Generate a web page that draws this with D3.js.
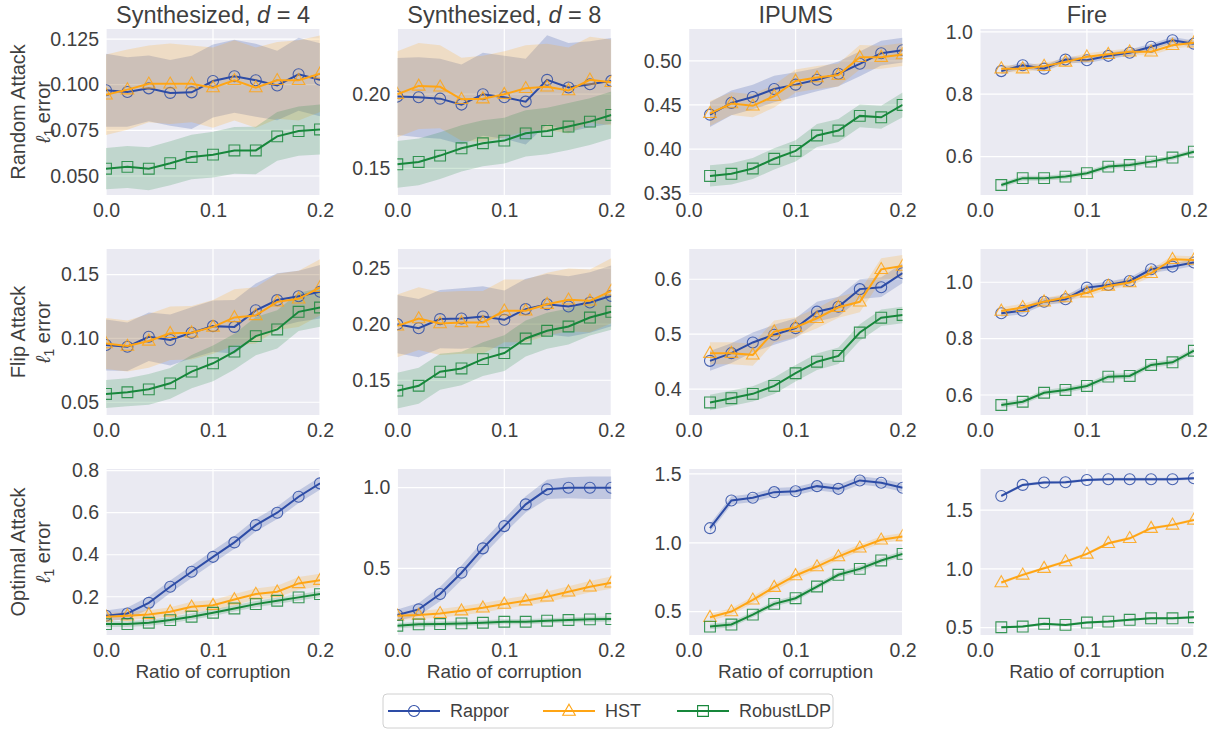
<!DOCTYPE html>
<html>
<head>
<meta charset="utf-8">
<script src="https://cdn.jsdelivr.net/npm/d3@7"></script>
<style>
  body { margin: 0; background: #fff; }
  svg text { font-family: "Liberation Sans", Arial, sans-serif; fill: #3f3f3f; }
</style>
</head>
<body>
<div class="canvas"></div>
<script>
// x values (ratio of corruption)
const ratioFull = [0, 0.02, 0.04, 0.06, 0.08, 0.1, 0.12, 0.14, 0.16, 0.18, 0.2];
const ratioShort = [0.02, 0.04, 0.06, 0.08, 0.1, 0.12, 0.14, 0.16, 0.18, 0.2];
const xTicks = [0, 0.1, 0.2];

const methods = ["Rappor", "HST", "RobustLDP"];
const colTitles = ["Synthesized, d = 4", "Synthesized, d = 8", "IPUMS", "Fire"];
const rowLabels = ["Random Attack", "Flip Attack", "Optimal Attack"];

// ---- Random attack ----
const rndD4Rappor = [0.097, 0.096, 0.098, 0.0955, 0.0958, 0.102, 0.1046, 0.1024, 0.0996, 0.1057, 0.1027];
const rndD4RapporErr = [0.020, 0.019, 0.018, 0.018, 0.020, 0.020, 0.020, 0.020, 0.019, 0.020, 0.020];
const rndD4Hst = [0.0945, 0.0973, 0.1005, 0.1005, 0.1005, 0.0984, 0.1024, 0.0984, 0.1024, 0.1024, 0.106];
const rndD4HstErr = [0.022, 0.022, 0.021, 0.022, 0.021, 0.022, 0.022, 0.022, 0.021, 0.022, 0.021];
const rndD4Robust = [0.054, 0.055, 0.054, 0.057, 0.0604, 0.0617, 0.064, 0.064, 0.0717, 0.0746, 0.0755];
const rndD4RobustErr = [0.0113, 0.0115, 0.0118, 0.012, 0.0122, 0.0125, 0.0128, 0.013, 0.0133, 0.0135, 0.0137];

const rndD8Rappor = [0.1984, 0.198, 0.197, 0.193, 0.200, 0.198, 0.195, 0.2097, 0.2045, 0.2067, 0.209];
const rndD8RapporErr = [0.026, 0.027, 0.027, 0.027, 0.028, 0.028, 0.029, 0.030, 0.030, 0.029, 0.029];
const rndD8Hst = [0.200, 0.2056, 0.205, 0.1966, 0.197, 0.200, 0.204, 0.205, 0.2025, 0.2097, 0.208];
const rndD8HstErr = [0.029, 0.029, 0.028, 0.028, 0.029, 0.029, 0.029, 0.029, 0.029, 0.029, 0.029];
const rndD8Robust = [0.1527, 0.1543, 0.1586, 0.1635, 0.1669, 0.1687, 0.1736, 0.1752, 0.1782, 0.1815, 0.186];
const rndD8RobustErr = [0.0158, 0.0158, 0.0158, 0.0156, 0.0155, 0.0155, 0.0156, 0.0157, 0.0158, 0.0158, 0.0158];

const rndIpRappor = [0.439, 0.4523, 0.459, 0.468, 0.473, 0.4786, 0.4853, 0.4966, 0.5086, 0.512];
const rndIpRapporErr = [0.014, 0.014, 0.014, 0.015, 0.014, 0.013, 0.014, 0.014, 0.014, 0.014];
const rndIpHst = [0.4405, 0.4515, 0.449, 0.460, 0.4771, 0.481, 0.4838, 0.504, 0.5041, 0.5071];
const rndIpHstErr = [0.014, 0.013, 0.013, 0.013, 0.013, 0.013, 0.013, 0.014, 0.013, 0.013];
const rndIpRobust = [0.3696, 0.372, 0.378, 0.389, 0.398, 0.4154, 0.421, 0.4376, 0.436, 0.450];
const rndIpRobustErr = [0.012, 0.012, 0.012, 0.012, 0.012, 0.013, 0.013, 0.013, 0.013, 0.014];

const rndFireRappor = [0.874, 0.8928, 0.882, 0.911, 0.909, 0.923, 0.933, 0.952, 0.973, 0.962];
const rndFireRapporErr = [0.010, 0.010, 0.010, 0.010, 0.010, 0.010, 0.010, 0.010, 0.010, 0.010];
const rndFireHst = [0.882, 0.882, 0.890, 0.9035, 0.920, 0.928, 0.936, 0.936, 0.957, 0.965];
const rndFireHstErr = [0.012, 0.011, 0.011, 0.011, 0.011, 0.011, 0.011, 0.011, 0.011, 0.011];
const rndFireRobust = [0.509, 0.531, 0.531, 0.536, 0.547, 0.568, 0.573, 0.584, 0.597, 0.616];
const rndFireRobustErr = [0.008, 0.008, 0.008, 0.008, 0.008, 0.008, 0.008, 0.008, 0.008, 0.008];

// ---- Flip attack ----
const flipD4Rappor = [0.0948, 0.0935, 0.1013, 0.0987, 0.1044, 0.1096, 0.109, 0.122, 0.130, 0.133, 0.1365];
const flipD4RapporErr = [0.020, 0.019, 0.019, 0.020, 0.020, 0.020, 0.021, 0.021, 0.021, 0.020, 0.021];
const flipD4Hst = [0.096, 0.094, 0.098, 0.104, 0.1044, 0.109, 0.1164, 0.118, 0.1286, 0.131, 0.140];
const flipD4HstErr = [0.020, 0.020, 0.021, 0.021, 0.021, 0.021, 0.022, 0.022, 0.022, 0.022, 0.022];
const flipD4Robust = [0.0565, 0.0578, 0.0601, 0.0648, 0.074, 0.0805, 0.0896, 0.1018, 0.107, 0.1208, 0.1242];
const flipD4RobustErr = [0.011, 0.011, 0.012, 0.012, 0.013, 0.014, 0.014, 0.015, 0.015, 0.015, 0.015];

const flipD8Rappor = [0.200, 0.1964, 0.2045, 0.205, 0.2068, 0.2039, 0.2134, 0.2178, 0.2157, 0.2193, 0.2252];
const flipD8RapporErr = [0.026, 0.026, 0.026, 0.027, 0.027, 0.026, 0.027, 0.027, 0.027, 0.027, 0.027];
const flipD8Hst = [0.1985, 0.205, 0.2006, 0.2015, 0.2015, 0.2119, 0.2119, 0.2178, 0.2217, 0.2208, 0.2297];
const flipD8HstErr = [0.028, 0.028, 0.028, 0.028, 0.028, 0.028, 0.028, 0.028, 0.028, 0.028, 0.029];
const flipD8Robust = [0.1407, 0.1451, 0.1576, 0.1605, 0.1688, 0.1742, 0.1872, 0.1941, 0.1979, 0.2059, 0.211];
const flipD8RobustErr = [0.016, 0.016, 0.016, 0.015, 0.015, 0.016, 0.016, 0.016, 0.016, 0.016, 0.016];

const flipIpRappor = [0.4515, 0.4655, 0.485, 0.499, 0.511, 0.541, 0.550, 0.582, 0.5855, 0.611];
const flipIpRapporErr = [0.018, 0.018, 0.018, 0.018, 0.018, 0.018, 0.018, 0.018, 0.018, 0.018];
const flipIpHst = [0.4655, 0.4655, 0.4624, 0.5048, 0.5127, 0.529, 0.549, 0.559, 0.618, 0.624];
const flipIpHstErr = [0.020, 0.020, 0.020, 0.020, 0.018, 0.018, 0.019, 0.019, 0.020, 0.020];
const flipIpRobust = [0.3758, 0.3836, 0.3915, 0.406, 0.429, 0.450, 0.4606, 0.503, 0.530, 0.535];
const flipIpRobustErr = [0.014, 0.014, 0.014, 0.015, 0.015, 0.015, 0.015, 0.015, 0.015, 0.015];

const flipFireRappor = [0.890, 0.899, 0.931, 0.9397, 0.981, 0.9905, 1.0047, 1.046, 1.0556, 1.070];
const flipFireRapporErr = [0.012, 0.012, 0.012, 0.012, 0.012, 0.012, 0.012, 0.012, 0.012, 0.012];
const flipFireHst = [0.898, 0.911, 0.931, 0.9456, 0.963, 0.987, 0.9988, 1.032, 1.0817, 1.079];
const flipFireHstErr = [0.013, 0.013, 0.013, 0.013, 0.013, 0.013, 0.013, 0.013, 0.013, 0.013];
const flipFireRobust = [0.5645, 0.576, 0.608, 0.6178, 0.632, 0.665, 0.6675, 0.7065, 0.716, 0.757];
const flipFireRobustErr = [0.010, 0.010, 0.010, 0.010, 0.010, 0.010, 0.010, 0.010, 0.010, 0.010];

// ---- Optimal attack ----
const optD4Rappor = [0.1095, 0.1206, 0.171, 0.2476, 0.319, 0.390, 0.4587, 0.541, 0.600, 0.676, 0.7397];
const optD4RapporErr = [0.025, 0.028, 0.030, 0.030, 0.030, 0.030, 0.030, 0.030, 0.030, 0.030, 0.030];
const optD4Hst = [0.1048, 0.1095, 0.116, 0.1286, 0.152, 0.160, 0.187, 0.2127, 0.224, 0.2635, 0.279];
const optD4HstErr = [0.018, 0.018, 0.020, 0.022, 0.024, 0.025, 0.026, 0.027, 0.028, 0.030, 0.030];
const optD4Robust = [0.0698, 0.070, 0.0762, 0.089, 0.105, 0.124, 0.1444, 0.165, 0.181, 0.197, 0.2127];
const optD4RobustErr = [0.014, 0.014, 0.014, 0.015, 0.015, 0.015, 0.015, 0.015, 0.015, 0.015, 0.015];

const optD8Rappor = [0.2107, 0.246, 0.341, 0.4731, 0.624, 0.762, 0.8967, 0.990, 1.000, 1.000, 1.000];
const optD8RapporErr = [0.035, 0.040, 0.045, 0.045, 0.045, 0.045, 0.050, 0.060, 0.065, 0.070, 0.070];
const optD8Hst = [0.2066, 0.2107, 0.221, 0.2376, 0.256, 0.279, 0.2996, 0.324, 0.355, 0.386, 0.411];
const optD8HstErr = [0.025, 0.025, 0.027, 0.028, 0.030, 0.030, 0.030, 0.032, 0.034, 0.036, 0.038];
const optD8Robust = [0.1446, 0.153, 0.155, 0.159, 0.163, 0.169, 0.169, 0.1756, 0.180, 0.184, 0.186];
const optD8RobustErr = [0.016, 0.016, 0.016, 0.016, 0.016, 0.016, 0.016, 0.016, 0.016, 0.016, 0.016];

const optIpRappor = [1.1065, 1.3075, 1.327, 1.368, 1.375, 1.4116, 1.392, 1.453, 1.436, 1.400];
const optIpRapporErr = [0.030, 0.030, 0.030, 0.030, 0.030, 0.030, 0.030, 0.030, 0.030, 0.030];
const optIpHst = [0.460, 0.501, 0.586, 0.678, 0.763, 0.828, 0.900, 0.964, 1.022, 1.046];
const optIpHstErr = [0.025, 0.025, 0.025, 0.025, 0.025, 0.025, 0.025, 0.025, 0.025, 0.025];
const optIpRobust = [0.392, 0.407, 0.479, 0.557, 0.598, 0.683, 0.768, 0.811, 0.872, 0.920];
const optIpRobustErr = [0.020, 0.020, 0.020, 0.020, 0.020, 0.020, 0.020, 0.020, 0.020, 0.020];

const optFireRappor = [1.620, 1.714, 1.734, 1.737, 1.756, 1.762, 1.762, 1.762, 1.762, 1.770];
const optFireRapporErr = [0.012, 0.012, 0.012, 0.012, 0.012, 0.012, 0.012, 0.012, 0.012, 0.012];
const optFireHst = [0.884, 0.949, 1.006, 1.062, 1.127, 1.218, 1.260, 1.346, 1.374, 1.416];
const optFireHstErr = [0.012, 0.012, 0.012, 0.012, 0.012, 0.012, 0.012, 0.012, 0.012, 0.012];
const optFireRobust = [0.504, 0.510, 0.533, 0.524, 0.544, 0.552, 0.567, 0.580, 0.580, 0.589];
const optFireRobustErr = [0.010, 0.010, 0.010, 0.010, 0.010, 0.010, 0.010, 0.010, 0.010, 0.010];

// y axes per panel (row major)
const yDomains = [
  [0.0396, 0.1305], [0.132, 0.244], [0.348, 0.536], [0.477, 1.009],
  [0.040, 0.170], [0.119, 0.267], [0.353, 0.655], [0.529, 1.118],
  [0.018, 0.808], [0.087, 1.116], [0.331, 1.536], [0.438, 1.849]
];
const yTicks = [
  [0.05, 0.075, 0.1, 0.125], [0.15, 0.2], [0.35, 0.4, 0.45, 0.5], [0.6, 0.8, 1.0],
  [0.05, 0.1, 0.15], [0.15, 0.2, 0.25], [0.4, 0.5, 0.6], [0.6, 0.8, 1.0],
  [0.2, 0.4, 0.6, 0.8], [0.5, 1.0], [0.5, 1.0, 1.5], [0.5, 1.0, 1.5]
];
const yFormats = [".3f", ".2f", ".2f", ".1f", ".2f", ".2f", ".1f", ".1f", ".1f", ".1f", ".1f", ".1f"];

// panels, row major: [x values, [mean, err] per method]
const panels = [
  [ratioFull, [[rndD4Rappor, rndD4RapporErr], [rndD4Hst, rndD4HstErr], [rndD4Robust, rndD4RobustErr]]],
  [ratioFull, [[rndD8Rappor, rndD8RapporErr], [rndD8Hst, rndD8HstErr], [rndD8Robust, rndD8RobustErr]]],
  [ratioShort, [[rndIpRappor, rndIpRapporErr], [rndIpHst, rndIpHstErr], [rndIpRobust, rndIpRobustErr]]],
  [ratioShort, [[rndFireRappor, rndFireRapporErr], [rndFireHst, rndFireHstErr], [rndFireRobust, rndFireRobustErr]]],
  [ratioFull, [[flipD4Rappor, flipD4RapporErr], [flipD4Hst, flipD4HstErr], [flipD4Robust, flipD4RobustErr]]],
  [ratioFull, [[flipD8Rappor, flipD8RapporErr], [flipD8Hst, flipD8HstErr], [flipD8Robust, flipD8RobustErr]]],
  [ratioShort, [[flipIpRappor, flipIpRapporErr], [flipIpHst, flipIpHstErr], [flipIpRobust, flipIpRobustErr]]],
  [ratioShort, [[flipFireRappor, flipFireRapporErr], [flipFireHst, flipFireHstErr], [flipFireRobust, flipFireRobustErr]]],
  [ratioFull, [[optD4Rappor, optD4RapporErr], [optD4Hst, optD4HstErr], [optD4Robust, optD4RobustErr]]],
  [ratioFull, [[optD8Rappor, optD8RapporErr], [optD8Hst, optD8HstErr], [optD8Robust, optD8RobustErr]]],
  [ratioShort, [[optIpRappor, optIpRapporErr], [optIpHst, optIpHstErr], [optIpRobust, optIpRobustErr]]],
  [ratioShort, [[optFireRappor, optFireRapporErr], [optFireHst, optFireHstErr], [optFireRobust, optFireRobustErr]]]
];

const dims = {width: 1216, height: 729};
const grid = {left: 106, top: 29, colStep: 291.3, rowStep: 220, pw: 214, ph: 166};
const colors = ["#2d4ca6", "#ffa514", "#17873b"];
const bandOpacity = [0.22, 0.2, 0.2];

const svg = d3.select(".canvas").append("svg")
    .attr("width", dims.width)
    .attr("height", dims.height);

const defs = svg.append("defs");

// marker shapes: circle, triangle, square
const markerPath = (i) => {
  if (i === 0) return d3.symbol(d3.symbolCircle, 95)();
  if (i === 1) return "M0,-6.8L6.3,4.2L-6.3,4.2Z";
  return "M-5.4,-5.4H5.4V5.4H-5.4Z";
};

panels.forEach((p, k) => {
  const row = Math.floor(k / 4), col = k % 4;
  const x0 = grid.left + col * grid.colStep, y0 = grid.top + row * grid.rowStep;
  const g = svg.append("g").attr("transform", `translate(${x0},${y0})`);

  const x = d3.scaleLinear().domain([0, 0.2]).range([0, grid.pw]);
  const y = d3.scaleLinear().domain(yDomains[k]).range([grid.ph, 0]);

  g.append("rect").attr("width", grid.pw).attr("height", grid.ph).attr("fill", "#eaeaf2");

  // grid lines
  g.selectAll(".gy").data(yTicks[k]).enter().append("line")
    .attr("x1", 0).attr("x2", grid.pw)
    .attr("y1", d => y(d)).attr("y2", d => y(d))
    .attr("stroke", "#fff").attr("stroke-width", 1.2);
  g.selectAll(".gx").data(xTicks).enter().append("line")
    .attr("y1", 0).attr("y2", grid.ph)
    .attr("x1", d => x(d)).attr("x2", d => x(d))
    .attr("stroke", "#fff").attr("stroke-width", 1.2);

  // clip to the axes area
  const clipId = "clip" + k;
  defs.append("clipPath").attr("id", clipId)
    .append("rect").attr("width", grid.pw).attr("height", grid.ph);
  const plot = g.append("g").attr("clip-path", `url(#${clipId})`);

  const xs = p[0];
  // bands first
  p[1].forEach((s, i) => {
    const pts = xs.map((xv, j) => ({x: xv, m: s[0][j], e: s[1][j]}));
    const area = d3.area().x(d => x(d.x)).y0(d => y(d.m - d.e)).y1(d => y(d.m + d.e));
    plot.append("path").attr("d", area(pts))
      .attr("fill", colors[i]).attr("fill-opacity", bandOpacity[i]);
  });
  // lines and markers
  p[1].forEach((s, i) => {
    const pts = xs.map((xv, j) => ({x: xv, m: s[0][j]}));
    const line = d3.line().x(d => x(d.x)).y(d => y(d.m));
    plot.append("path").attr("d", line(pts))
      .attr("fill", "none").attr("stroke", colors[i]).attr("stroke-width", 2);
    plot.selectAll(".m" + i).data(pts).enter().append("path")
      .attr("d", markerPath(i))
      .attr("transform", d => `translate(${x(d.x)},${y(d.m)})`)
      .attr("fill", "none").attr("stroke", colors[i])
      .attr("stroke-width", 1.1).attr("stroke-opacity", 0.85);
  });

  // axes (no domain line, no tick marks)
  const yAxis = d3.axisLeft(y).tickValues(yTicks[k]).tickFormat(d3.format(yFormats[k])).tickSize(0).tickPadding(7);
  const ya = g.append("g").call(yAxis);
  ya.select(".domain").remove();
  ya.selectAll("text").attr("font-size", 19.5).attr("fill", "#3f3f3f");

  const xAxis = d3.axisBottom(x).tickValues(xTicks).tickFormat(d3.format(".1f")).tickSize(0).tickPadding(8);
  const xa = g.append("g").attr("transform", `translate(0,${grid.ph})`).call(xAxis);
  xa.select(".domain").remove();
  xa.selectAll("text").attr("font-size", 19.5).attr("fill", "#3f3f3f");

  if (row === 0) {
    const t = g.append("text").attr("x", grid.pw / 2).attr("y", -6)
      .attr("text-anchor", "middle").attr("font-size", 23.5);
    if (col < 2) {
      const parts = colTitles[col].split("d = ");
      t.append("tspan").text(parts[0]);
      t.append("tspan").attr("font-style", "italic").text("d");
      t.append("tspan").text(" = " + parts[1]);
    } else {
      t.text(colTitles[col]);
    }
  }
  if (row === 2) {
    g.append("text").attr("x", grid.pw / 2).attr("y", grid.ph + 43)
      .attr("text-anchor", "middle").attr("font-size", 19)
      .text("Ratio of corruption");
  }
  if (col === 0) {
    const cy = grid.ph / 2;
    g.append("text")
      .attr("transform", `translate(${18 - x0},${cy}) rotate(-90)`)
      .attr("text-anchor", "middle").attr("dy", "0.35em").attr("font-size", 20)
      .text(rowLabels[row]);
    const t2 = g.append("text")
      .attr("transform", `translate(${43 - x0},${cy}) rotate(-90)`)
      .attr("text-anchor", "middle").attr("dy", "0.35em").attr("font-size", 20);
    t2.append("tspan").attr("font-style", "italic").text("ℓ");
    t2.append("tspan").attr("font-size", 14).attr("dy", 4).text("1");
    t2.append("tspan").attr("dy", -4).text(" error");
  }
});

// legend
const legend = svg.append("g").attr("transform", "translate(383,694)");
legend.append("rect").attr("width", 450).attr("height", 34).attr("rx", 4)
  .attr("fill", "#fff").attr("stroke", "#d0d0d0");
const legendX = [5, 160, 294];
methods.forEach((m, i) => {
  const lg = legend.append("g").attr("transform", `translate(${legendX[i]},17)`);
  lg.append("line").attr("x1", 0).attr("x2", 52).attr("stroke", colors[i]).attr("stroke-width", 2);
  lg.append("path").attr("d", markerPath(i)).attr("transform", "translate(26,0)")
    .attr("fill", "none").attr("stroke", colors[i]).attr("stroke-width", 1.1);
  lg.append("text").attr("x", 62).attr("dy", "0.35em").attr("font-size", 18).text(m);
});
</script>
</body>
</html>
